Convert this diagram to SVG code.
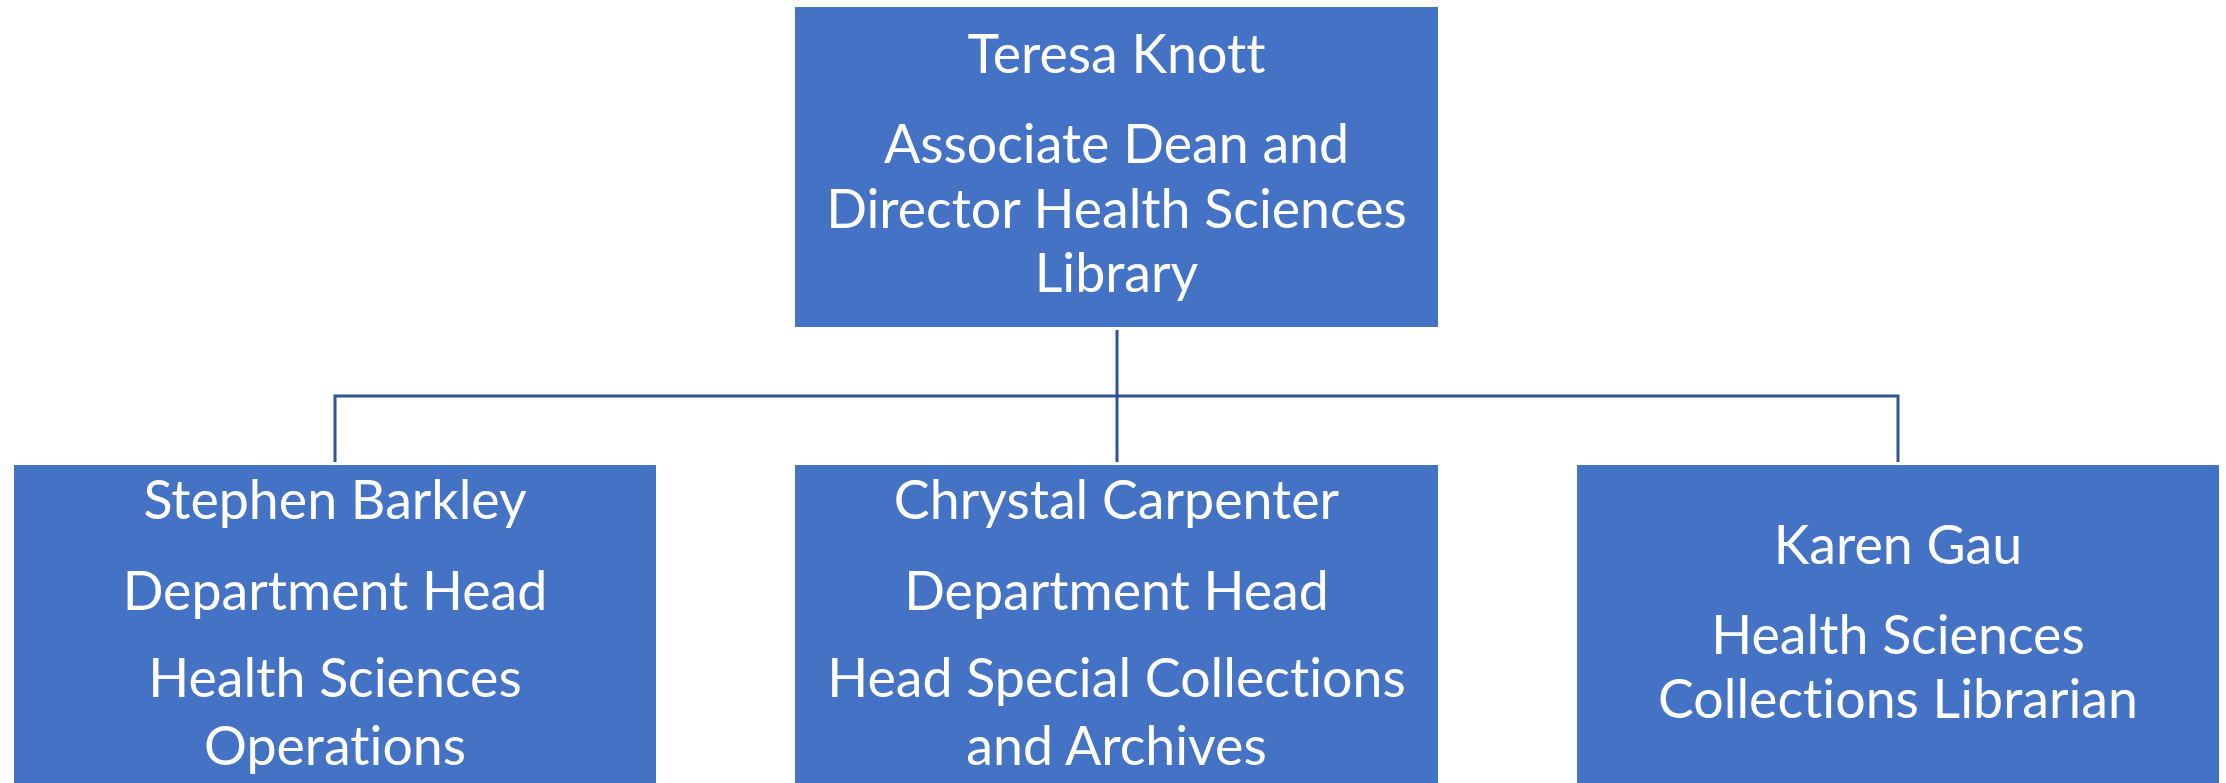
<svg xmlns="http://www.w3.org/2000/svg" width="2226" height="783" viewBox="0 0 2226 783">
<style>
.box{fill:#4472C4;}
.t{font-family:Lato,"Open Sans","Liberation Sans",sans-serif;font-size:53.7px;fill:#FFFFFF;text-anchor:middle;font-variant-ligatures:none;font-feature-settings:"liga" 0;}
.c{stroke:#2F5597;stroke-width:3;fill:none;}
</style>
<rect width="2226" height="783" fill="#FFFFFF"/>
<g id="connectors">
<line class="c" x1="1117" y1="330" x2="1117" y2="462"/>
<polyline class="c" points="335,462 335,396 1898,396 1898,462"/>
</g>
<g id="node-knott">
<rect class="box" x="795" y="7" width="643" height="320"/>
<text class="t" x="1116.5" y="73">Teresa Knott</text>
<text class="t" x="1116.5" y="163">Associate Dean and</text>
<text class="t" x="1116.5" y="228">Director Health Sciences</text>
<text class="t" x="1116.5" y="292">Library</text>
</g>
<g id="node-barkley">
<rect class="box" x="14" y="465" width="642" height="330"/>
<text class="t" x="335" y="519">Stephen Barkley</text>
<text class="t" x="335" y="610">Department Head</text>
<text class="t" x="335" y="697">Health Sciences</text>
<text class="t" x="335" y="765">Operations</text>
</g>
<g id="node-carpenter">
<rect class="box" x="795" y="465" width="643" height="330"/>
<text class="t" x="1116.5" y="519">Chrystal Carpenter</text>
<text class="t" x="1116.5" y="610">Department Head</text>
<text class="t" x="1116.5" y="697">Head Special Collections</text>
<text class="t" x="1116.5" y="765">and Archives</text>
</g>
<g id="node-gau">
<rect class="box" x="1577" y="465" width="642" height="330"/>
<text class="t" x="1898" y="564">Karen Gau</text>
<text class="t" x="1898" y="654">Health Sciences</text>
<text class="t" x="1898" y="718">Collections Librarian</text>
</g>
</svg>
